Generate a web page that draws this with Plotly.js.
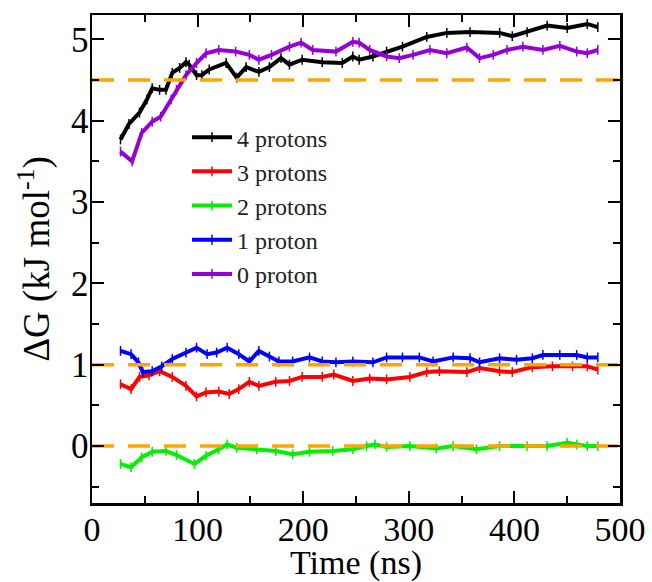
<!DOCTYPE html>
<html>
<head>
<meta charset="utf-8">
<script src="https://cdn.plot.ly/plotly-3.0.1.min.js"></script>
<style>html,body{margin:0;padding:0;background:#fff;}#chart{width:652px;height:582px;}</style>
</head>
<body>
<div id="chart"></div>
<script>
// Data (Time in ns, ΔG in kJ/mol)
const seriesNames = ["4 protons", "3 protons", "2 protons", "1 proton", "0 proton"];
const seriesColors = ["#000000", "#ff0000", "#00ee00", "#0000ff", "#9400d3"];

const t4 = [27,35,45,52,57,64,70,76,83,89,92,99,104,111,127,137,146,158,168,179,187,199,218,237,247,253,266,279,294,317,336,358,386,398,412,431,450,469,479];
const g4 = [3.77,3.96,4.10,4.26,4.40,4.38,4.38,4.59,4.65,4.72,4.69,4.56,4.56,4.63,4.71,4.53,4.66,4.60,4.66,4.77,4.69,4.75,4.72,4.71,4.79,4.75,4.79,4.85,4.91,5.03,5.08,5.09,5.08,5.04,5.09,5.17,5.14,5.19,5.15];

const t3 = [27,37,45,54,64,76,89,99,108,120,130,139,149,158,174,187,199,218,229,247,263,279,301,317,329,355,367,386,398,417,436,455,469,479];
const g3 = [0.76,0.70,0.85,0.87,0.92,0.85,0.74,0.61,0.66,0.67,0.64,0.70,0.79,0.74,0.79,0.80,0.85,0.85,0.88,0.80,0.83,0.82,0.85,0.91,0.92,0.91,0.96,0.92,0.91,0.97,0.98,0.98,0.98,0.94];

const t2 = [27,37,47,57,70,80,97,108,120,128,137,156,174,190,206,228,247,260,268,279,301,326,342,364,386,412,431,450,459,469,479];
const g2 = [-0.22,-0.26,-0.14,-0.07,-0.06,-0.11,-0.22,-0.12,-0.04,0.02,-0.02,-0.04,-0.06,-0.10,-0.07,-0.06,-0.04,0.00,0.02,-0.01,0.00,-0.03,0.00,-0.04,0.00,0.00,0.00,0.04,0.02,0.00,0.00];

const t1 = [27,37,44,48,57,66,76,89,99,109,118,128,139,149,158,168,177,190,206,218,231,247,266,279,294,310,323,342,358,367,386,402,417,427,443,459,469,479];
const g1 = [1.17,1.13,1.03,0.91,0.92,0.98,1.07,1.15,1.21,1.13,1.15,1.21,1.13,1.04,1.17,1.10,1.04,1.04,1.09,1.04,1.03,1.04,1.03,1.09,1.09,1.09,1.04,1.09,1.08,1.03,1.08,1.06,1.08,1.12,1.12,1.12,1.09,1.09];

const t0 = [27,38,47,57,65,75,80,89,99,108,120,136,149,158,170,187,198,209,231,247,253,263,279,291,304,320,336,355,367,380,393,408,427,443,459,469,479];
const g0 = [3.62,3.50,3.85,3.99,4.05,4.26,4.38,4.56,4.71,4.83,4.87,4.85,4.81,4.75,4.81,4.91,4.96,4.87,4.85,4.97,4.96,4.87,4.79,4.77,4.81,4.87,4.83,4.90,4.77,4.81,4.87,4.91,4.87,4.92,4.85,4.83,4.87];

const refX = [0, 500];
const refLevels = [4.5, 1.0, 0.0];

const xTicks = [0, 100, 200, 300, 400, 500];
const yTicks = [0, 1, 2, 3, 4, 5];

const allT = [t4, t3, t2, t1, t0];
const allG = [g4, g3, g2, g1, g0];

const traces = [];
for (let i = 0; i < seriesNames.length; i++) {
  traces.push({
    x: allT[i], y: allG[i], type: 'scatter', mode: 'lines+markers',
    name: seriesNames[i],
    line: {color: seriesColors[i], width: 4},
    marker: {symbol: 'line-ns', size: 7, line: {color: seriesColors[i], width: 1.5}},
    showlegend: true
  });
}
refLevels.forEach(function (lv) {
  traces.push({
    x: refX, y: [lv, lv], type: 'scatter', mode: 'lines',
    line: {color: '#ffa500', width: 3.5, dash: '22px,14px'},
    showlegend: false, hoverinfo: 'skip'
  });
});

const serif = '"Liberation Serif", "Times New Roman", serif';
const layout = {
  width: 652, height: 582,
  margin: {l: 92, r: 32, t: 15, b: 79},
  paper_bgcolor: '#fff', plot_bgcolor: '#fff',
  font: {family: serif, color: '#000'},
  showlegend: true,
  legend: {
    x: 0.18, y: 0.795, xanchor: 'left', yanchor: 'top',
    itemwidth: 40,
    bgcolor: 'rgba(0,0,0,0)', borderwidth: 0,
    font: {family: serif, size: 24, color: '#222'}
  },
  xaxis: {
    range: [0, 500], tickvals: xTicks, ticktext: xTicks.map(String),
    ticks: 'inside', ticklen: 12, tickwidth: 2, tickcolor: '#000',
    showline: true, linewidth: 2.5, linecolor: '#000', mirror: 'allticks',
    showgrid: false, zeroline: false, ticklabelstandoff: -5,
    tickfont: {family: serif, size: 34, color: '#000'},
    minor: {dtick: 50, tick0: 0, ticks: 'inside', ticklen: 7, tickwidth: 2, tickcolor: '#000', showgrid: false},
    title: {text: 'Time (ns)', font: {family: serif, size: 34, color: '#000'}, standoff: 10}
  },
  yaxis: {
    range: [-0.7, 5.3], tickvals: yTicks, ticktext: yTicks.map(String),
    ticks: 'inside', ticklen: 12, tickwidth: 2, tickcolor: '#000',
    showline: true, linewidth: 2.5, linecolor: '#000', mirror: 'allticks',
    showgrid: false, zeroline: false, ticklabelstandoff: -6,
    tickfont: {family: serif, size: 35, color: '#000'},
    minor: {dtick: 0.5, tick0: 0, ticks: 'inside', ticklen: 7, tickwidth: 2, tickcolor: '#000', showgrid: false},
    title: {text: 'ΔG (kJ mol<sup>-1</sup>)', font: {family: serif, size: 37, color: '#000'}, standoff: 10}
  }
};

Plotly.newPlot('chart', traces, layout, {displayModeBar: false, staticPlot: true});
</script>
</body>
</html>
